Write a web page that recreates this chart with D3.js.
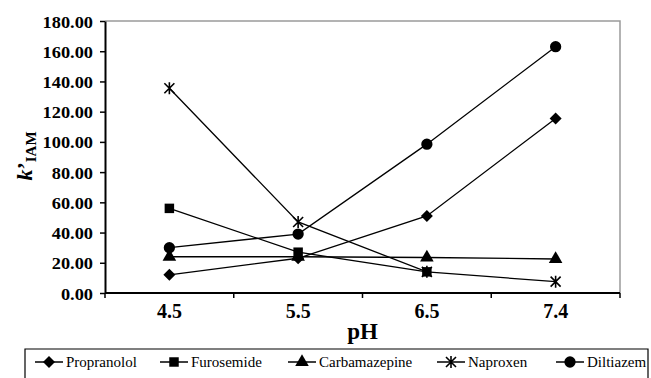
<!DOCTYPE html>
<html>
<head>
<meta charset="utf-8">
<script src="https://cdn.jsdelivr.net/npm/d3@7"></script>
<style>
  body { margin: 0; background: #fff; }
  text { font-family: 'Liberation Serif', 'Times New Roman', 'DejaVu Serif', serif; }
</style>
</head>
<body>
<div id="chart"></div>
<script>
const categories = ['4.5', '5.5', '6.5', '7.4'];
const yTicks = [0, 20, 40, 60, 80, 100, 120, 140, 160, 180];
const seriesNames = ['Propranolol', 'Furosemide', 'Carbamazepine', 'Naproxen', 'Diltiazem'];
const propranolol = [12.0, 23.0, 51.0, 115.5];
const furosemide = [56.0, 27.0, 14.0, null];
const carbamazepine = [24.0, 24.0, 23.5, 22.5];
const naproxen = [135.5, 47.0, 14.0, 7.5];
const diltiazem = [30.0, 39.0, 98.5, 163.0];
const symbols = ['diamond', 'square', 'triangle', 'star', 'circle'];

const width = 651, height = 378;
const margin = { left: 105, right: 31, top: 21, bottom: 85 };
const serif = "'Liberation Serif', 'Times New Roman', 'DejaVu Serif', serif";

const svg = d3.select('#chart').append('svg')
    .attr('width', width)
    .attr('height', height)
    .attr('font-family', serif);

const x = d3.scaleBand()
    .domain(categories)
    .range([margin.left, width - margin.right]);

const y = d3.scaleLinear()
    .domain([0, 180])
    .range([height - margin.bottom, margin.top]);

const series = [propranolol, furosemide, carbamazepine, naproxen, diltiazem].map((vals, i) => ({
    name: seriesNames[i],
    symbol: symbols[i],
    values: vals.map((v, j) => ({ cat: categories[j], v: v }))
}));

// rahmen oben / rechts grau
svg.append('path')
    .attr('d', `M${margin.left},${margin.top}H${width - margin.right}V${height - margin.bottom}`)
    .attr('fill', 'none')
    .attr('stroke', '#9a9a9a')
    .attr('stroke-width', 1.5);

// y-achse
const yAxis = svg.append('g')
    .attr('transform', `translate(${margin.left},0)`)
    .call(d3.axisLeft(y).tickValues(yTicks).tickSize(5).tickSizeOuter(0).tickFormat(d3.format('.2f')))
    .attr('font-family', serif);
yAxis.select('.domain').attr('stroke', '#000').attr('stroke-width', 2);
yAxis.selectAll('.tick line').attr('stroke-width', 1.5);
yAxis.selectAll('.tick text')
    .attr('x', null)
    .attr('dy', null)
    .attr('transform', 'translate(-12,6) scale(1.08,1)')
    .style('font-family', serif)
    .style('font-size', '17px')
    .style('font-weight', 'bold')
    .attr('fill', '#000');

// x-achse: ticks an den grenzen
const xBottom = height - margin.bottom;
svg.append('line')
    .attr('x1', margin.left).attr('x2', width - margin.right)
    .attr('y1', xBottom).attr('y2', xBottom)
    .attr('stroke', '#000').attr('stroke-width', 2);
const bounds = categories.map(c => x(c)).concat([x.range()[1]]);
svg.append('g').selectAll('line')
    .data(bounds)
    .enter().append('line')
    .attr('x1', d => d).attr('x2', d => d)
    .attr('y1', xBottom).attr('y2', xBottom + 5)
    .attr('stroke', '#000').attr('stroke-width', 1.5);
svg.append('g').selectAll('text')
    .data(categories)
    .enter().append('text')
    .attr('x', d => x(d) + x.bandwidth() / 2)
    .attr('y', 318)
    .attr('text-anchor', 'middle')
    .style('font-family', serif)
    .style('font-size', '20px')
    .style('font-weight', 'bold')
    .text(d => d);

// achsentitel
svg.append('text')
    .attr('x', (margin.left + width - margin.right) / 2)
    .attr('y', 339)
    .attr('text-anchor', 'middle')
    .style('font-family', serif)
    .style('font-size', '23px')
    .style('font-weight', 'bold')
    .text('pH');

const yl = svg.append('text')
    .attr('transform', 'translate(32,156) rotate(-90)')
    .attr('text-anchor', 'middle')
    .style('font-family', serif)
    .style('font-size', '22px')
    .style('font-weight', 'bold');
yl.append('tspan').style('font-style', 'italic').text('k');
yl.append('tspan').text('\u2019');
yl.append('tspan').attr('dy', 4).style('font-size', '15px').text('IAM');

// linien
const line = d3.line()
    .defined(d => d.v != null)
    .x(d => x(d.cat) + x.bandwidth() / 2)
    .y(d => y(d.v));

svg.append('g').selectAll('path')
    .data(series)
    .enter().append('path')
    .attr('d', d => line(d.values))
    .attr('fill', 'none')
    .attr('stroke', '#000')
    .attr('stroke-width', 1.3);

function marker(sel, type) {
    if (type === 'star') {
        sel.append('path')
            .attr('d', 'M-5,-5L5,5M5,-5L-5,5M0,-6V6')
            .attr('stroke', '#000').attr('stroke-width', 1.6).attr('fill', 'none');
        return;
    }
    if (type === 'diamond') {
        sel.append('path')
            .attr('d', 'M0,-6L6,0L0,6L-6,0Z')
            .attr('fill', '#000');
        return;
    }
    const sym = { square: d3.symbolSquare, triangle: d3.symbolTriangle, circle: d3.symbolCircle }[type];
    const size = { square: 90, triangle: 80, circle: 100 }[type];
    sel.append('path')
        .attr('d', d3.symbol().type(sym).size(size)())
        .attr('fill', '#000');
}

series.forEach(s => {
    svg.append('g').selectAll('g')
        .data(s.values.filter(d => d.v != null))
        .enter().append('g')
        .attr('transform', d => `translate(${x(d.cat) + x.bandwidth() / 2},${y(d.v)})`)
        .each(function() { marker(d3.select(this), s.symbol); });
});

// legende
svg.append('path')
    .attr('d', 'M25,381V349H648V381')
    .attr('fill', 'none')
    .attr('stroke', '#000')
    .attr('stroke-width', 1.2);

const legendX = [35, 160, 288, 437, 556];
const leg = svg.append('g').selectAll('g')
    .data(series)
    .enter().append('g')
    .attr('transform', (d, i) => `translate(${legendX[i]},362)`);
leg.append('line')
    .attr('x1', 0).attr('x2', 28)
    .attr('stroke', '#000').attr('stroke-width', 1.5);
leg.append('g')
    .attr('transform', 'translate(14,0)')
    .each(function(d) { marker(d3.select(this), d.symbol); });
leg.append('text')
    .attr('x', 31)
    .attr('y', 5)
    .style('font-family', serif)
    .style('font-size', '15px')
    .text(d => d.name);
</script>
</body>
</html>
